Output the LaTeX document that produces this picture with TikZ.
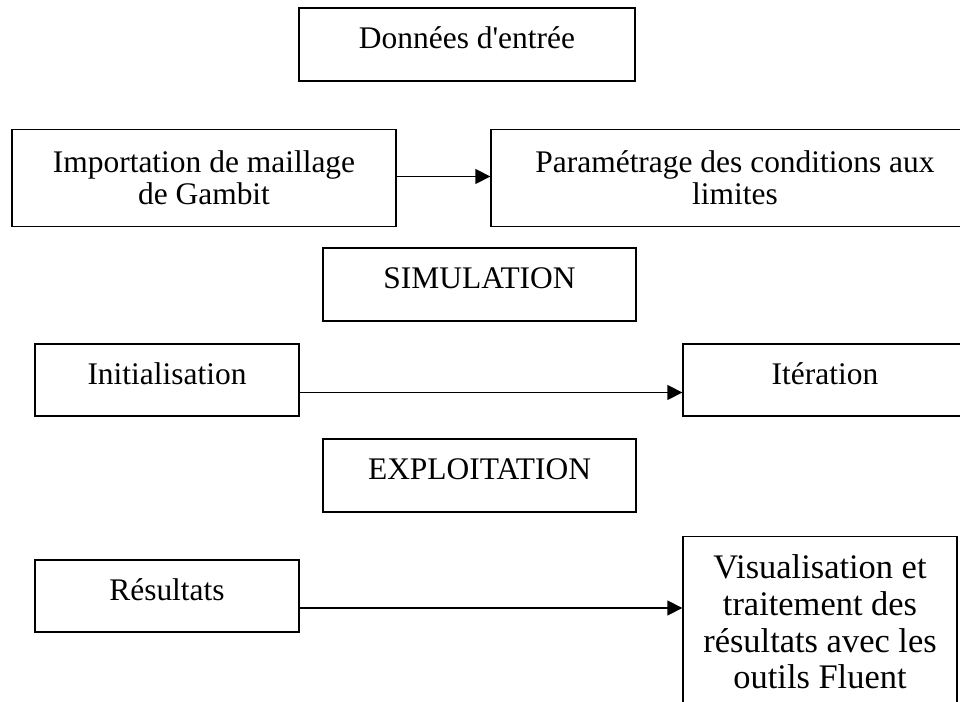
\documentclass[tikz,border=0pt]{standalone}
\usepackage{fontspec}
\setmainfont{Liberation Serif}
\usetikzlibrary{arrows.meta}

\begin{document}
\begin{tikzpicture}[>={Triangle[length=0.3cm, width=0.3cm]},
    box/.style={draw, line width=0.75pt, inner sep=0pt},
    single/.style={box, font=\fontsize{17.9}{18}\selectfont, text height=12.5pt, text depth=7.5pt},
    multi/.style={box, align=center, font=\fontsize{17.9}{18}\selectfont}]
    \useasboundingbox (0,0) rectangle (19.2,-14.04);
    \clip (0,0) rectangle (19.2,-14.04);

    % entree
    \node[single, minimum width=6.72cm, minimum height=1.46cm] (entree) at (9.34,-0.89) {Données d\textquotesingle entrée};
    \node[multi, minimum width=7.68cm, minimum height=1.94cm] (import) at (4.08,-3.56) {Importation de maillage\\de Gambit};
    \node[multi, minimum width=9.76cm, minimum height=1.94cm] (param) at (14.70,-3.56) {Paramétrage des conditions aux\\limites};

    % simulation
    \node[single, minimum width=6.26cm, minimum height=1.46cm] (simul) at (9.59,-5.69) {SIMULATION};
    \node[single, minimum width=5.28cm, minimum height=1.44cm] (init) at (3.34,-7.60) {Initialisation};
    \node[single, minimum width=5.68cm, minimum height=1.44cm] (iter) at (16.50,-7.60) {Itération};

    % exploitation
    \node[single, minimum width=6.26cm, minimum height=1.46cm] (exploit) at (9.59,-9.51) {EXPLOITATION};
    \node[single, minimum width=5.28cm, minimum height=1.44cm] (result) at (3.34,-11.92) {Résultats};
    \node[multi, font=\fontsize{19.6}{20.9}\selectfont, minimum width=5.48cm, minimum height=3.41cm, anchor=north] (visu) at (16.40,-10.72) {Visualisation et\\traitement des\\résultats avec les\\outils Fluent};

    \draw[->, line width=0.75pt] ([yshift=0.03cm]import.east) -- ([yshift=0.03cm]import.east -| param.west);
    \draw[->, line width=0.75pt] ([yshift=-0.25cm]init.east) -- ([yshift=-0.25cm]init.east -| iter.west);
    \draw[->, line width=0.75pt] ([yshift=-0.24cm]result.east) -- ([yshift=-0.24cm]result.east -| visu.west);
\end{tikzpicture}
\end{document}
